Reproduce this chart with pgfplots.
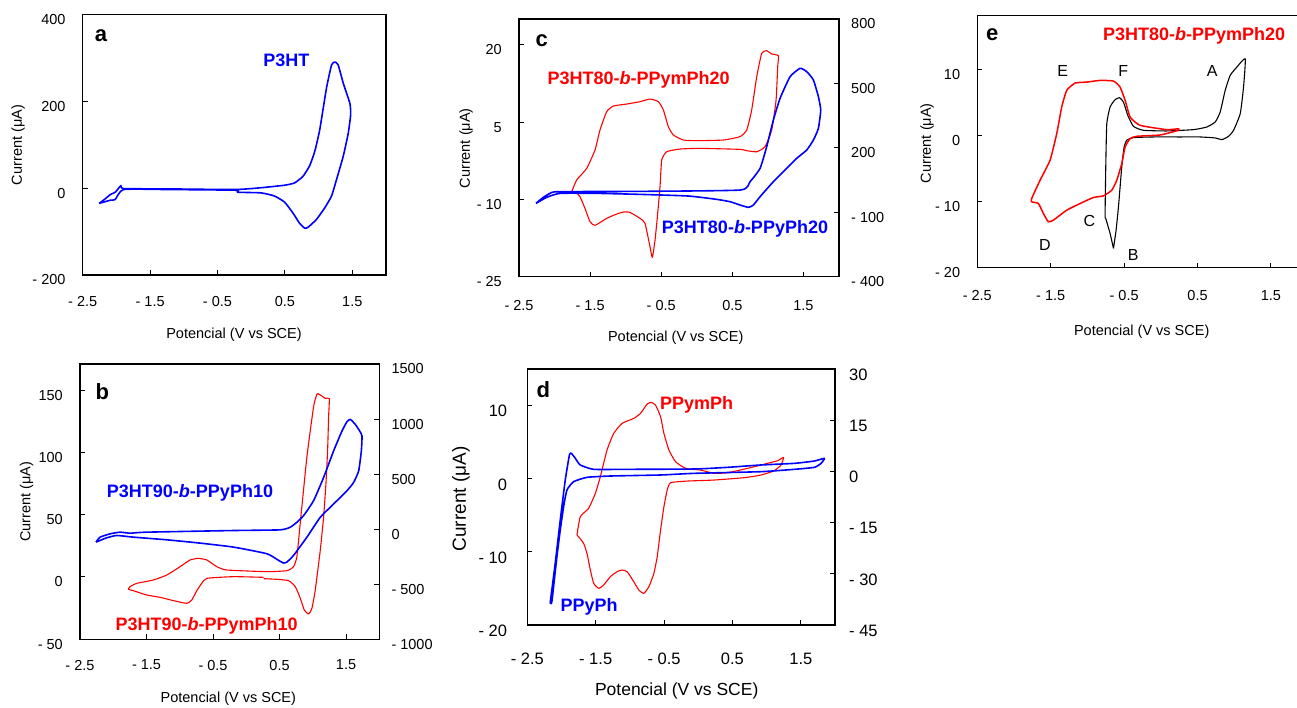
\documentclass[border=0pt]{standalone}
\usepackage{fontspec}
\setmainfont{Liberation Sans}
\usepackage{pgfplots}
\pgfplotsset{compat=1.18}
\definecolor{cvblue}{RGB}{0,0,255}
\definecolor{cvred}{RGB}{255,0,0}
\newcommand{\fs}[1]{\fontsize{#1}{#1}\selectfont}
\pgfplotsset{
  cvbase/.style={
    scale only axis, anchor=north west,
    xmin=-2.5, xmax=2,
    axis line style={line width=1.2pt, black, -},
    every tick/.style={black, line width=1pt},
    major tick length=5pt, tick align=inside,
    xtick={-2.5,-1.5,-0.5,0.5,1.5},
    xticklabels={- 2.5,- 1.5,- 0.5,0.5,1.5},
    xticklabel style={font=\fs{14.5}, inner sep=0pt, anchor=center},
    yticklabel style={font=\fs{14.5}, inner sep=0pt},
    clip=false,
  },
  leftlab/.style={tick pos=left, yticklabel style={anchor=east, xshift=-17pt, yshift=-5pt}},
  rightlab/.style={axis x line=none, axis y line*=right, yticklabel style={anchor=west, xshift=12pt, yshift=-5pt}},
  bl/.style={cvblue, line width=1.6pt, line join=round, smooth, tension=0.3},
  rd/.style={cvred, line width=1.1pt, line join=round, smooth, tension=0.3},
  rdt/.style={cvred, line width=1.5pt, line join=round, smooth, tension=0.3},
  bk/.style={black, line width=1.1pt, line join=round, smooth, tension=0.3},
}
\begin{document}
\begin{tikzpicture}
\useasboundingbox (0,0) rectangle (1297pt,-707pt);
% ---------------- panel a
\begin{axis}[cvbase, leftlab, at={(82.7pt,-14.7pt)}, width=303.3pt, height=260.3pt,
  xticklabel style={yshift=-27pt},
  ymin=-200, ymax=400, ytick={-200,0,200,400}, yticklabels={- 200,0,200,400}]
\addplot[bl] coordinates {(-2.256,-35) (-2.167,-24.5) (-2.09,-14.6) (-2.017,-9.2) (-1.933,6.1) (-1.893,-0.8) (-1.246,-1.5) (-0.251,-3) (0.122,0.8) (0.495,6.9) (0.644,12.3) (0.769,27.6) (0.868,52) (0.943,85) (1.017,135) (1.117,231) (1.192,284) (1.241,291) (1.291,284) (1.366,242) (1.465,195) (1.475,169) (1.44,127) (1.366,74) (1.266,20) (1.192,-18) (1.092,-45) (0.968,-72) (0.843,-90) (0.794,-92) (0.719,-81) (0.619,-57) (0.495,-32) (0.346,-18) (0.147,-10.7) (-0.201,-9.2) (-0.226,-4.6) (-1.246,-3) (-1.893,-3) (-2.017,-26) (-2.09,-27.6) (-2.19,-32) (-2.256,-35)};
\end{axis}
% ---------------- panel c
\begin{axis}[cvbase, leftlab, at={(519pt,-19pt)}, width=320pt, height=257.7pt,
  xticklabel style={yshift=-29.3pt},
  ymin=-25, ymax=25, ytick={-25,-10,5,20}, yticklabels={- 25,- 10,5,20}]
\addplot[rd] coordinates {(-1.759,-8.51) (-1.689,-6.24) (-1.548,-3.98) (-1.431,-0.42) (-1.361,3.46) (-1.267,7.02) (-1.173,8.12) (-0.986,8.50) (-0.798,8.96) (-0.658,9.47) (-0.540,8.96) (-0.470,7.34) (-0.400,4.11) (-0.329,2.49) (-0.189,1.52) (-0.001,1.39) (0.374,1.52) (0.608,2.17) (0.702,3.46) (0.772,7.34) (0.843,13.81) (0.913,18.34) (0.983,18.85) (1.054,18.21) (1.147,17.88) (1.138,15.75) (1.115,9.28) (1.054,3.46) (0.960,0.23) (0.843,-0.75) (0.702,-0.55) (0.608,-0.29) (0.046,-0.10) (-0.236,-0.23) (-0.423,-0.75) (-0.493,-2.36) (-0.517,-7.54) (-0.554,-13.36) (-0.587,-17.89) (-0.625,-21.25) (-0.658,-19.18) (-0.728,-14.65) (-0.798,-13.68) (-0.939,-12.52) (-1.033,-12.45) (-1.126,-12.84) (-1.267,-13.68) (-1.431,-15.04) (-1.501,-14.33) (-1.572,-11.74) (-1.642,-9.48) (-1.698,-8.64) (-1.759,-8.51)};
\end{axis}
\begin{axis}[cvbase, rightlab, at={(519pt,-19pt)}, width=320pt, height=257.7pt,
  ymin=-400, ymax=800, ytick={-400,-100,200,500,800}, yticklabels={- 400,- 100,200,500,800}]
\addplot[bl] coordinates {(-2.261,-58.5) (-2.158,-30.5) (-2.064,-11.9) (-1.947,-4.1) (-0.798,-2.6) (0.608,3.6) (0.749,42.4) (0.890,104.5) (0.983,205.4) (1.077,329.6) (1.171,430.5) (1.312,531.4) (1.452,570.3) (1.546,554.7) (1.640,515.9) (1.710,438.3) (1.743,376.2) (1.710,290.8) (1.640,236.5) (1.546,189.9) (1.405,151.1) (1.265,104.5) (1.077,42.4) (0.890,-27.4) (0.796,-66.2) (0.726,-77.1) (0.608,-66.2) (0.468,-50.7) (0.280,-39.8) (-0.119,-24.3) (-0.798,-16.6) (-1.408,-11.9) (-1.923,-11.9) (-2.111,-30.5) (-2.261,-58.5)};
\end{axis}
% ---------------- panel e
\begin{axis}[cvbase, leftlab, at={(977.3pt,-15.7pt)}, width=330.3pt, height=252pt,
  xticklabel style={yshift=-28.3pt},
  ymin=-20, ymax=18.2, ytick={-20,-10,0,10}, yticklabels={- 20,- 10,0,10}]
\addplot[bk] coordinates {(-0.645,-17.08) (-0.691,-14.81) (-0.75,-12.54) (-0.759,-12.0) (-0.75,-4.72) (-0.736,1.84) (-0.691,4.36) (-0.623,5.47) (-0.564,5.77) (-0.509,5.11) (-0.45,3.10) (-0.373,1.43) (-0.236,0.83) (0.082,0.73) (0.445,0.93) (0.627,1.33) (0.741,2.09) (0.809,3.60) (0.877,6.88) (0.945,9.15) (1.036,10.41) (1.15,11.67) (1.127,7.38) (1.082,3.35) (0.991,0.83) (0.923,-0.08) (0.832,-0.58) (0.741,-0.33) (0.536,-0.18) (0.264,-0.18) (-0.1,-0.18) (-0.373,-0.28) (-0.464,-0.69) (-0.5,-1.69) (-0.532,-4.72) (-0.577,-10.77) (-0.609,-14.3) (-0.645,-17.08)};
\addplot[rdt] coordinates {(0.241,1.08) (0.082,0.93) (-0.282,1.58) (-0.418,2.84) (-0.486,5.37) (-0.555,7.38) (-0.645,8.29) (-0.827,8.39) (-1.009,8.14) (-1.168,7.99) (-1.282,6.88) (-1.350,4.36) (-1.418,0.32) (-1.509,-3.71) (-1.645,-6.74) (-1.759,-9.51) (-1.759,-10.02) (-1.668,-10.27) (-1.600,-11.78) (-1.532,-13.04) (-1.464,-12.79) (-1.282,-11.28) (-1.100,-10.27) (-0.918,-9.36) (-0.782,-9.11) (-0.668,-8.25) (-0.600,-6.74) (-0.532,-4.22) (-0.486,-1.69) (-0.418,-0.43) (-0.327,-0.08) (-0.009,0.12) (0.241,0.83) (0.241,1.08)};
\end{axis}
% ---------------- panel b
\begin{axis}[cvbase, leftlab, at={(80pt,-364pt)}, width=299.3pt, height=275.3pt,
  xticklabel style={yshift=-25.7pt},
  ymin=-50, ymax=170.9, ytick={-50,0,50,100,150}, yticklabels={- 50,0,50,100,150}]
\addplot[rd] coordinates {(0.260,-0.27) (-0.192,0.27) (-0.593,-1.07) (-0.669,-5.08) (-0.744,-10.96) (-0.819,-18.45) (-0.894,-21.12) (-1.095,-18.98) (-1.296,-16.31) (-1.497,-14.44) (-1.697,-10.96) (-1.772,-9.89) (-1.747,-7.75) (-1.647,-5.08) (-1.396,-2.41) (-1.195,1.60) (-0.995,8.29) (-0.844,13.64) (-0.719,14.97) (-0.593,13.64) (-0.443,8.29) (-0.292,5.61) (0.310,4.28) (0.611,5.08) (0.711,8.29) (0.761,16.31) (0.811,43.05) (0.912,96.52) (1.012,136.63) (1.062,146.79) (1.088,146.79) (1.138,145.19) (1.188,143.32) (1.248,143.05) (1.238,128.61) (1.223,101.87) (1.198,75.13) (1.163,48.40) (1.113,21.66) (1.037,-10.43) (0.987,-25.13) (0.937,-29.68) (0.872,-26.47) (0.812,-17.11) (0.737,-7.75) (0.636,-2.94) (0.460,-1.87) (0.260,-1.34)};
\end{axis}
\begin{axis}[cvbase, rightlab, at={(80pt,-364pt)}, width=299.3pt, height=275.3pt,
  ymin=-1000, ymax=1500, ytick={-1000,-500,0,500,1000,1500}, yticklabels={- 1000,- 500,0,500,1000,1500}]
\addplot[bl] coordinates {(-2.259,-117.5) (-2.199,-72.3) (-2.048,-42.2) (-1.898,-27.1) (-1.747,-36.2) (-1.497,-27.1) (-0.192,-12.1) (0.511,-6.0) (0.661,18.1) (0.761,63.2) (0.862,123.5) (1.012,259.0) (1.163,469.9) (1.313,710.8) (1.439,891.5) (1.514,975.9) (1.564,997.0) (1.639,951.8) (1.705,891.5) (1.740,846.4) (1.730,710.8) (1.690,530.1) (1.614,424.7) (1.514,349.4) (1.313,228.9) (1.113,108.4) (0.912,-72.3) (0.711,-237.9) (0.611,-298.2) (0.561,-307.2) (0.485,-283.1) (0.310,-222.9) (-0.192,-162.7) (-0.694,-126.5) (-1.195,-96.4) (-1.697,-72.3) (-1.948,-57.2) (-2.099,-78.3) (-2.199,-102.4) (-2.259,-117.5)};
\end{axis}
% ---------------- panel d
\begin{axis}[cvbase, leftlab, at={(527.3pt,-369pt)}, width=307.7pt, height=256pt,
  xticklabel style={yshift=-34pt, font=\fs{16.5}},
  yticklabel style={font=\fs{16.5}, xshift=-3pt, yshift=-0.7pt},
  ymin=-20, ymax=15, ytick={-20,-10,0,10}, yticklabels={- 20,- 10,0,10}]
\addplot[rd] coordinates {(-1.774,-7.70) (-1.725,-5.19) (-1.603,-4.05) (-1.505,-2.00) (-1.432,0.27) (-1.334,3.92) (-1.236,6.20) (-1.114,7.56) (-0.943,8.25) (-0.845,8.93) (-0.747,10.21) (-0.688,10.43) (-0.625,10.07) (-0.551,8.47) (-0.502,6.20) (-0.429,3.92) (-0.331,2.32) (-0.185,1.41) (0.035,1.18) (0.231,0.73) (0.427,0.82) (0.720,1.41) (1.013,2.10) (1.160,2.46) (1.248,2.92) (1.209,1.87) (1.111,1.09) (0.916,0.50) (0.671,0.14) (0.231,-0.18) (-0.160,-0.32) (-0.405,-0.55) (-0.454,-1.55) (-0.502,-3.83) (-0.551,-7.02) (-0.600,-10.66) (-0.649,-12.94) (-0.722,-14.76) (-0.796,-15.67) (-0.869,-15.22) (-0.943,-14.08) (-1.040,-12.71) (-1.114,-12.48) (-1.187,-12.71) (-1.285,-13.39) (-1.383,-14.53) (-1.456,-14.99) (-1.529,-14.31) (-1.578,-12.48) (-1.627,-10.21) (-1.676,-8.84) (-1.750,-7.93) (-1.774,-7.70)};
\end{axis}
\begin{axis}[cvbase, rightlab, at={(527.3pt,-369pt)}, width=307.7pt, height=256pt,
  yticklabel style={font=\fs{16.5}, xshift=2pt, yshift=-0.7pt},
  ymin=-45, ymax=30, ytick={-45,-30,-15,0,15,30}, yticklabels={- 45,- 30,- 15,0,15,30}]
\addplot[bl] coordinates {(-2.165,-38.46) (-2.092,-26.93) (-2.018,-14.24) (-1.945,-2.52) (-1.881,5.10) (-1.847,5.10) (-1.798,3.83) (-1.725,1.88) (-1.529,0.61) (-1.040,0.61) (-0.062,0.70) (0.427,1.19) (0.916,1.88) (1.406,2.36) (1.699,3.05) (1.845,3.83) (1.796,2.36) (1.699,1.19) (1.406,0.61) (0.916,-0.08) (-0.062,-0.57) (-0.551,-1.05) (-1.285,-1.35) (-1.627,-1.74) (-1.823,-3.01) (-1.920,-5.45) (-1.969,-10.33) (-2.018,-17.17) (-2.067,-24.98) (-2.141,-38.16) (-2.165,-38.46)};
\end{axis}
% ---------------- axis titles
\begin{scope}[every node/.style={inner sep=0pt, font=\fs{14.5}}]
\node[rotate=90] at (18pt,-145pt) {Current (μA)};
\node at (234pt,-335pt) {Potencial (V vs SCE)};
\node[rotate=90] at (466pt,-148.3pt) {Current (μA)};
\node at (675.7pt,-337.3pt) {Potencial (V vs SCE)};
\node[rotate=90] at (927pt,-143.3pt) {Current (μA)};
\node at (1141.7pt,-331.7pt) {Potencial (V vs SCE)};
\node[rotate=90] at (26.7pt,-501.7pt) {Current (μA)};
\node at (228.3pt,-698.3pt) {Potencial (V vs SCE)};
\node[rotate=90, font=\fs{19}] at (461pt,-499pt) {Current (μA)};
\node[font=\fs{17.5}] at (676.7pt,-690.7pt) {Potencial (V vs SCE)};
\end{scope}
% ---------------- panel letters and curve names
\begin{scope}[every node/.style={inner sep=0pt, anchor=base, font=\fs{22}\bfseries}]
\node at (101pt,-41.7pt) {a};
\node at (541.7pt,-46pt) {c};
\node at (992.3pt,-40pt) {e};
\node at (102.3pt,-399pt) {b};
\node at (543.3pt,-397.3pt) {d};
\end{scope}
\begin{scope}[every node/.style={inner sep=0pt, anchor=base, font=\fs{18}\bfseries}]
\node[cvblue] at (286.3pt,-66.7pt) {P3HT};
\node[cvred] at (638.7pt,-84pt) {P3HT80-\textit{b}-PPymPh20};
\node[cvblue] at (745pt,-233.3pt) {P3HT80-\textit{b}-PPyPh20};
\node[cvred] at (1194.2pt,-40pt) {P3HT80-\textit{b}-PPymPh20};
\node[cvblue] at (190pt,-497.3pt) {P3HT90-\textit{b}-PPyPh10};
\node[cvred] at (206.7pt,-630pt) {P3HT90-\textit{b}-PPymPh10};
\node[cvred] at (696.7pt,-409pt) {PPymPh};
\node[cvblue] at (589.2pt,-611pt) {PPyPh};
\end{scope}
\begin{scope}[every node/.style={inner sep=0pt, anchor=base, font=\fs{16}}]
\node at (1062.7pt,-76.7pt) {E};
\node at (1123.3pt,-76.7pt) {F};
\node at (1212.3pt,-76.7pt) {A};
\node at (1089.3pt,-226pt) {C};
\node at (1045pt,-250.7pt) {D};
\node at (1133.3pt,-260pt) {B};
\end{scope}
\end{tikzpicture}
\end{document}
